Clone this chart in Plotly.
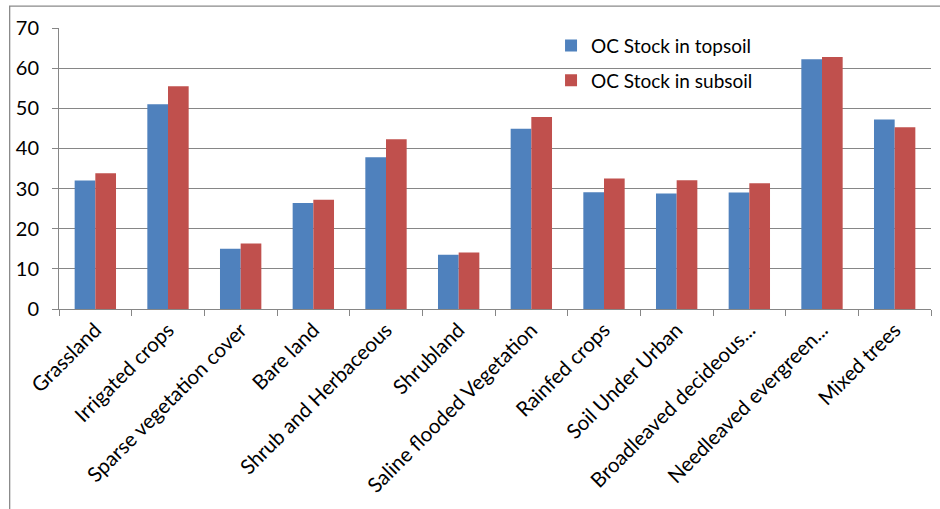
import plotly.graph_objects as go

# Land-cover classes and organic carbon stocks
categories = [
    "Grassland", "Irrigated crops", "Sparse vegetation cover", "Bare land",
    "Shrub and Herbaceous", "Shrubland", "Saline flooded Vegetation",
    "Rainfed crops", "Soil Under Urban", "Broadleaved decideous...",
    "Needleaved evergreen...", "Mixed trees",
]
topsoil = [32.0, 51.0, 15.0, 26.4, 37.8, 13.5, 44.9, 29.1, 28.8, 29.0, 62.2, 47.2]
subsoil = [33.8, 55.5, 16.3, 27.2, 42.3, 14.1, 47.8, 32.5, 32.1, 31.3, 62.8, 45.3]
y_ticks = [0, 10, 20, 30, 40, 50, 60, 70]

W, H = 940, 509
ML, MR, MT, MB = 59.3, 9.3, 28.3, 199.7
PW, PH = W - ML - MR, H - MT - MB


def px_x(x):
    return (x - ML) / PW


def px_y(y):
    return 1 - (y - MT) / PH


FONT = "Lato, 'Open Sans', sans-serif"
GRID = "#868686"

fig = go.Figure()
fig.add_trace(go.Bar(
    x=categories, y=topsoil, name="OC Stock in topsoil",
    marker=dict(color="#4F81BD", line=dict(width=0)),
    legendgroup="a",
))
fig.add_trace(go.Bar(
    x=categories, y=subsoil, name="OC Stock in subsoil",
    marker=dict(color="#C0504D", line=dict(width=0)),
    legendgroup="b",
))

fig.update_layout(
    width=W, height=H,
    margin=dict(l=ML, r=MR, t=MT, b=MB, pad=0),
    paper_bgcolor="white", plot_bgcolor="white",
    barmode="group", bargap=0.431, bargroupgap=0,
    font=dict(family=FONT, size=19, color="black"),
    legend=dict(
        x=px_x(551), y=px_y(27), xanchor="left", yanchor="top",
        traceorder="grouped", tracegroupgap=7,
        bgcolor="rgba(0,0,0,0)", borderwidth=0,
        font=dict(family=FONT, size=19, color="black"),
        itemwidth=30,
    ),
    xaxis=dict(
        type="category", tickangle=-45, tickson="boundaries",
        ticks="outside", ticklen=6, tickcolor=GRID,
        showline=True, linecolor=GRID, linewidth=1,
        showgrid=False, automargin=False,
        tickfont=dict(family=FONT, size=20.5, color="black"),
    ),
    yaxis=dict(
        range=[0, 70], tickvals=y_ticks, ticks="outside", ticklen=6,
        tickcolor=GRID, showline=True, linecolor=GRID, linewidth=1,
        showgrid=True, gridcolor=GRID, gridwidth=1, zeroline=False,
        automargin=False, ticklabelstandoff=9,
        tickfont=dict(family=FONT, size=20, color="black"),
    ),
    shapes=[dict(
        type="rect", xref="paper", yref="paper",
        x0=px_x(10), x1=px_x(W + 20), y0=px_y(H + 20), y1=px_y(6.5),
        line=dict(color="#8a8a8a", width=1.3), layer="below",
    )],
)

fig.write_html("out.html")
